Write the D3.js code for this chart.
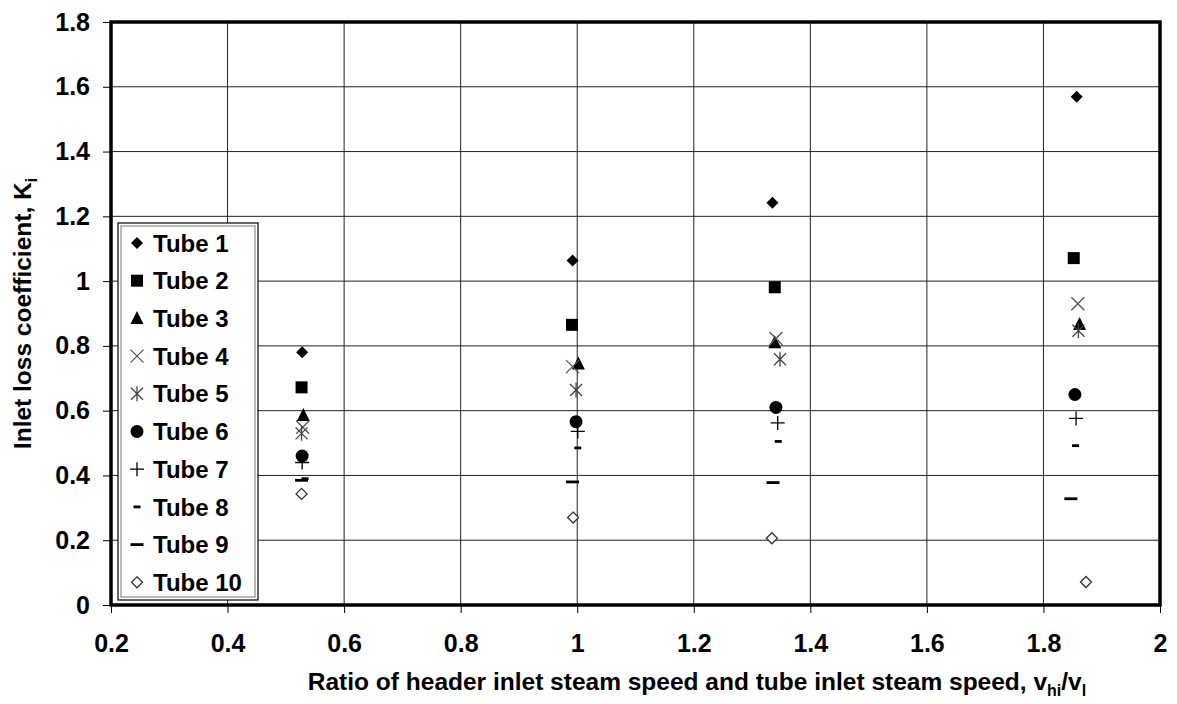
<!DOCTYPE html>
<html>
<head>
<meta charset="utf-8">
<script src="https://cdn.jsdelivr.net/npm/d3@7"></script>
<style>
  body { margin: 0; background: #fff; }
  svg { display: block; font-family: "Liberation Sans", Arial, sans-serif; }
</style>
</head>
<body>
<svg id="chart"></svg>
<script>
const tubeNames = ["Tube 1", "Tube 2", "Tube 3", "Tube 4", "Tube 5",
                   "Tube 6", "Tube 7", "Tube 8", "Tube 9", "Tube 10"];
const markerTypes = ["diamond", "square", "triangle", "x", "asterisk",
                     "circle", "plus", "dashShort", "dash", "diamondOpen"];

// speed ratio v_hi/v_l for each tube (4 runs)
const tubeRatios = [
  [0.528, 0.992, 1.335, 1.857],
  [0.527, 0.991, 1.339, 1.852],
  [0.530, 1.002, 1.339, 1.862],
  [0.529, 0.992, 1.341, 1.859],
  [0.527, 0.998, 1.348, 1.860],
  [0.528, 0.998, 1.341, 1.854],
  [0.528, 1.001, 1.344, 1.856],
  [0.533, 1.001, 1.345, 1.855],
  [0.527, 0.992, 1.336, 1.847],
  [0.527, 0.993, 1.334, 1.873]
];
// inlet loss coefficient K_i
const tubeK = [
  [0.780, 1.064, 1.242, 1.569],
  [0.672, 0.865, 0.981, 1.071],
  [0.585, 0.744, 0.810, 0.866],
  [0.549, 0.736, 0.823, 0.930],
  [0.530, 0.664, 0.759, 0.847],
  [0.460, 0.566, 0.610, 0.650],
  [0.440, 0.536, 0.562, 0.576],
  [0.390, 0.485, 0.505, 0.492],
  [0.385, 0.380, 0.378, 0.328],
  [0.343, 0.270, 0.206, 0.071]
];
const xTicks = [0.2, 0.4, 0.6, 0.8, 1, 1.2, 1.4, 1.6, 1.8, 2];
const yTicks = [0, 0.2, 0.4, 0.6, 0.8, 1, 1.2, 1.4, 1.6, 1.8];

const config = {
  width: 1177, height: 704,
  margin: { top: 22, right: 17, bottom: 99, left: 111 },
  tickFont: "25px",
  legendFont: "24px",
  titleFont: "24.5px"
};
const width = config.width - config.margin.left - config.margin.right;
const height = config.height - config.margin.top - config.margin.bottom;

const svg = d3.select("#chart")
  .attr("width", config.width)
  .attr("height", config.height);

const chart = svg.append("g")
  .attr("transform", `translate(${config.margin.left}, ${config.margin.top})`);

const x = d3.scaleLinear().domain([0.2, 2]).range([0, width]);
const y = d3.scaleLinear().domain([0, 1.8]).range([height, 0]);

// grid
chart.append("g")
  .selectAll("line")
  .data(xTicks)
  .join("line")
  .attr("x1", d => x(d)).attr("x2", d => x(d))
  .attr("y1", 0).attr("y2", height)
  .attr("stroke", "#222").attr("stroke-width", 1);
chart.append("g")
  .selectAll("line")
  .data(yTicks)
  .join("line")
  .attr("x1", 0).attr("x2", width)
  .attr("y1", d => y(d)).attr("y2", d => y(d))
  .attr("stroke", "#222").attr("stroke-width", 1);

// axes
const xAxis = chart.append("g")
  .attr("transform", `translate(0, ${height})`)
  .call(d3.axisBottom(x).tickValues(xTicks).tickSize(8).tickSizeOuter(0).tickPadding(21)
    .tickFormat(d3.format("")));
const yAxis = chart.append("g")
  .call(d3.axisLeft(y).tickValues(yTicks).tickSize(8).tickSizeOuter(0).tickPadding(13)
    .tickFormat(d3.format("")));
[xAxis, yAxis].forEach(a => {
  a.select(".domain").remove();
  a.selectAll(".tick line").attr("stroke", "#000").attr("stroke-width", 1);
  a.selectAll(".tick text")
    .attr("fill", "#000")
    .style("font-size", config.tickFont)
    .style("font-weight", "bold")
    .style("font-family", "'Liberation Sans', Arial, sans-serif");
});

// frame
chart.append("rect")
  .attr("x", 0).attr("y", 0)
  .attr("width", width).attr("height", height)
  .attr("fill", "none").attr("stroke", "#000").attr("stroke-width", 3.5);

// marker drawing
function drawMarker(g, type) {
  const s = 6;
  if (type === "diamond") {
    g.append("path").attr("d", `M0,${-s}L${s},0L0,${s}L${-s},0Z`).attr("fill", "#000");
  } else if (type === "square") {
    g.append("rect").attr("x", -6).attr("y", -6).attr("width", 12).attr("height", 12).attr("fill", "#000");
  } else if (type === "triangle") {
    g.append("path").attr("d", "M0,-7.5L6.5,5.5L-6.5,5.5Z").attr("fill", "#000");
  } else if (type === "x") {
    g.append("path").attr("d", "M-6.5,-6.5L6.5,6.5M-6.5,6.5L6.5,-6.5").attr("stroke", "#555").attr("stroke-width", 1.3);
  } else if (type === "asterisk") {
    g.append("path").attr("d", "M-6,-6L6,6M-6,6L6,-6M0,-7.5L0,7.5").attr("stroke", "#444").attr("stroke-width", 1.3);
  } else if (type === "circle") {
    g.append("circle").attr("r", 6.5).attr("fill", "#000");
  } else if (type === "plus") {
    g.append("path").attr("d", "M-7,0L7,0M0,-7L0,7").attr("stroke", "#000").attr("stroke-width", 1.3);
  } else if (type === "dashShort") {
    g.append("rect").attr("x", -3.5).attr("y", -1.4).attr("width", 7).attr("height", 2.8).attr("fill", "#000");
  } else if (type === "dash") {
    g.append("rect").attr("x", -6.5).attr("y", -1.4).attr("width", 13).attr("height", 2.8).attr("fill", "#000");
  } else if (type === "diamondOpen") {
    g.append("path").attr("d", "M0,-5.5L5.5,0L0,5.5L-5.5,0Z").attr("fill", "#fff").attr("stroke", "#333").attr("stroke-width", 1.3);
  }
}

// points
tubeNames.forEach((name, i) => {
  const pts = tubeRatios[i].map((r, j) => ({ r, k: tubeK[i][j] }));
  chart.append("g")
    .selectAll("g")
    .data(pts)
    .join("g")
    .attr("transform", d => `translate(${x(d.r)}, ${y(d.k)})`)
    .each(function() { drawMarker(d3.select(this), markerTypes[i]); });
});

// legend
const legend = svg.append("g").attr("transform", "translate(118, 223)");
legend.append("rect")
  .attr("x", 0).attr("y", 0).attr("width", 140).attr("height", 377)
  .attr("fill", "#fff").attr("stroke", "#000").attr("stroke-width", 1.2);
legend.append("rect")
  .attr("x", 3).attr("y", 3).attr("width", 134).attr("height", 371)
  .attr("fill", "none").attr("stroke", "#777").attr("stroke-width", 1);
const items = legend.selectAll("g.item")
  .data(tubeNames)
  .join("g")
  .attr("transform", (d, i) => `translate(19, ${20 + i * 37.7})`);
items.each(function(d, i) { drawMarker(d3.select(this), markerTypes[i]); });
items.append("text")
  .attr("x", 16).attr("dy", "0.36em")
  .style("font-size", config.legendFont).style("font-weight", "bold")
  .text(d => d);

// axis titles
const yTitle = svg.append("text")
  .attr("transform", `translate(31, ${config.margin.top + height / 2}) rotate(-90)`)
  .attr("text-anchor", "middle")
  .style("font-size", config.titleFont).style("font-weight", "bold");
yTitle.append("tspan").text("Inlet loss coefficient, K");
yTitle.append("tspan").attr("dy", 6).style("font-size", "16px").text("i");

const xTitle = svg.append("text")
  .attr("x", 697)
  .attr("y", 690)
  .attr("text-anchor", "middle")
  .style("font-size", config.titleFont).style("font-weight", "bold");
xTitle.append("tspan").text("Ratio of header inlet steam speed and tube inlet steam speed, v");
xTitle.append("tspan").attr("dy", 6).style("font-size", "16px").text("hi");
xTitle.append("tspan").attr("dy", -6).text("/v");
xTitle.append("tspan").attr("dy", 6).style("font-size", "16px").text("l");
</script>
</body>
</html>
